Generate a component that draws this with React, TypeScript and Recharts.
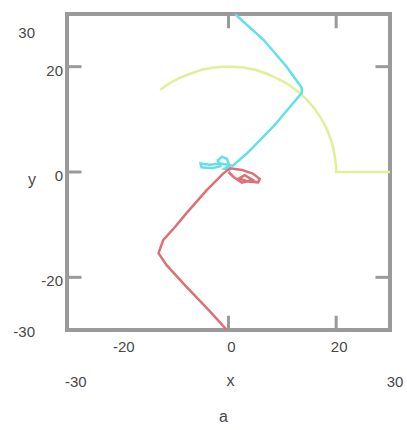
import { ScatterChart, Scatter, XAxis, YAxis, ReferenceArea, ReferenceLine, Label } from "recharts"

type Pt = { x: number; y: number }

const xTicks = [-30, -20, 0, 20, 30]
const yTicks = [-30, -20, 0, 20, 30]
const xTickMarks = [0, 20]
const leftTickMarks = [20, 0, -20]
const rightTickMarks = [20, -20]

// arc of radius ~20 round the origin, then a flat run out to the edge
const arcPath: Pt[] = [
  { x: -12.7, y: 15.6 }, { x: -11, y: 16.8 }, { x: -9, y: 17.9 }, { x: -7, y: 18.7 },
  { x: -5, y: 19.4 }, { x: -3, y: 19.8 }, { x: -1, y: 20 }, { x: 1, y: 20 },
  { x: 3, y: 19.8 }, { x: 5, y: 19.4 }, { x: 7, y: 18.7 }, { x: 9, y: 17.8 },
  { x: 11, y: 16.7 }, { x: 13, y: 15.2 }, { x: 14.5, y: 13.8 }, { x: 16, y: 12 },
  { x: 17.2, y: 10.2 }, { x: 18.2, y: 8.3 }, { x: 19, y: 6.2 }, { x: 19.5, y: 4.4 },
  { x: 19.8, y: 2.6 }, { x: 20, y: 0.8 }, { x: 20, y: 0 }, { x: 30, y: 0 },
]

const upperPath: Pt[] = [
  { x: 1.2, y: 30 }, { x: 6.5, y: 25.1 }, { x: 10.8, y: 20 }, { x: 13.6, y: 16 },
  { x: 13.6, y: 15 }, { x: 8.3, y: 8.6 }, { x: 3.4, y: 3.5 }, { x: 0.8, y: 1.2 },
  { x: -1.5, y: 1.6 }, { x: -3.5, y: 1.4 }, { x: -5.2, y: 1.6 }, { x: -5, y: 0.9 },
  { x: -3, y: 0.7 }, { x: -1.5, y: 1.1 }, { x: -2, y: 2.2 }, { x: -1.2, y: 2.9 },
  { x: -0.3, y: 2.5 }, { x: 0.2, y: 1.2 }, { x: -0.8, y: 0.6 }, { x: 0.4, y: 0.3 },
]

const lowerPath: Pt[] = [
  { x: -0.3, y: -30 }, { x: -3.4, y: -26.5 }, { x: -7.8, y: -21.8 }, { x: -11.5, y: -17.7 },
  { x: -13, y: -15.4 }, { x: -12.1, y: -12.9 }, { x: -9.9, y: -10.4 }, { x: -7.8, y: -7.8 },
  { x: -4, y: -3.4 }, { x: -1, y: -0.3 }, { x: 0.3, y: 0.7 }, { x: 2.5, y: 0.4 },
  { x: 4.5, y: -0.3 }, { x: 5.8, y: -1.3 }, { x: 5.5, y: -2 }, { x: 3.5, y: -1.8 },
  { x: 2, y: -1.2 }, { x: 3, y: -0.6 }, { x: 4.5, y: -1.5 }, { x: 2.5, y: -2 },
  { x: 1, y: -1 }, { x: 0, y: 0 },
]

const FONT = "'Liberation Sans', Arial, sans-serif"
const TEXT = "#484848"
const FRAME = "#9a9a9a"
const MARK_X = 2.7 // tick mark length, in data units
const MARK_Y = 2.7

const NoDot = () => <g />

function XTick({ x, y, payload }: any) {
  const v = payload.value
  const common = { fontFamily: FONT, fontSize: 15, fill: TEXT }
  if (v === -30) return <text x={x - 2} y={y + 57} textAnchor="start" {...common}>-30</text>
  if (v === 30) return <text x={x + 5} y={y + 57} textAnchor="middle" {...common}>30</text>
  return <text x={x + 3} y={y + 22} textAnchor="middle" {...common}>{v}</text>
}

function YTick({ x, y, payload }: any) {
  const v = payload.value
  const common = { fontFamily: FONT, fontSize: 15, fill: TEXT, textAnchor: "end" as const }
  if (v === 30) return <text x={x - 32} y={y + 24} {...common}>30</text>
  if (v === -30) return <text x={x - 32} y={y + 7} {...common}>-30</text>
  return <text x={x - 4} y={y + 9} {...common}>{v}</text>
}

function XTitle({ viewBox }: any) {
  const cx = viewBox.x + viewBox.width / 2
  return (
    <g fontFamily={FONT} fontSize={16} fill={TEXT} textAnchor="middle">
      <text x={cx + 2} y={viewBox.y + 56}>x</text>
      <text x={cx - 5} y={viewBox.y + 92}>a</text>
    </g>
  )
}

function YTitle() {
  return <text x={32} y={185} fontFamily={FONT} fontSize={16} fill={TEXT} textAnchor="middle">y</text>
}

export default function App() {
  return (
    <div style={{ position: "absolute", left: 0, top: 0, width: 407, height: 430, background: "#fff" }}>
      <ScatterChart width={407} height={430} margin={{ top: 14, right: 17, bottom: 0, left: 0 }}>
        <XAxis
          type="number" dataKey="x" domain={[-30, 30]} ticks={xTicks} height={100}
          axisLine={false} tickLine={false} tickSize={0} tickMargin={0} tick={<XTick />}
          allowDataOverflow
        >
          <Label content={<XTitle />} />
        </XAxis>
        <YAxis
          type="number" dataKey="y" domain={[-30, 30]} ticks={yTicks} width={67}
          axisLine={false} tickLine={false} tickSize={0} tickMargin={0} tick={<YTick />}
          allowDataOverflow
        >
          <Label content={<YTitle />} />
        </YAxis>

        <Scatter data={arcPath} line={{ stroke: "#e3ee98", strokeWidth: 2.5 }} lineType="joint"
          stroke="#e3ee98" shape={<NoDot />} isAnimationActive={false} legendType="none" />
        <Scatter data={upperPath} line={{ stroke: "#62e0ea", strokeWidth: 2.5 }} lineType="joint"
          stroke="#62e0ea" shape={<NoDot />} isAnimationActive={false} legendType="none" />
        <Scatter data={lowerPath} line={{ stroke: "#de6f74", strokeWidth: 2.5 }} lineType="joint"
          stroke="#de6f74" shape={<NoDot />} isAnimationActive={false} legendType="none" />

        {xTickMarks.map(v => (
          <ReferenceLine key={`t${v}`} segment={[{ x: v, y: 30 }, { x: v, y: 30 - MARK_Y }]}
            stroke={FRAME} strokeWidth={3} />
        ))}
        {xTickMarks.map(v => (
          <ReferenceLine key={`b${v}`} segment={[{ x: v, y: -30 }, { x: v, y: -30 + MARK_Y }]}
            stroke={FRAME} strokeWidth={3} />
        ))}
        {leftTickMarks.map(v => (
          <ReferenceLine key={`l${v}`} segment={[{ x: -30, y: v }, { x: -30 + MARK_X, y: v }]}
            stroke={FRAME} strokeWidth={3} />
        ))}
        {rightTickMarks.map(v => (
          <ReferenceLine key={`r${v}`} segment={[{ x: 30, y: v }, { x: 30 - MARK_X, y: v }]}
            stroke={FRAME} strokeWidth={3} />
        ))}
        <ReferenceArea x1={-30} x2={30} y1={-30} y2={30} fill="none" fillOpacity={0}
          stroke={FRAME} strokeWidth={4} strokeOpacity={1} ifOverflow="visible" />
      </ScatterChart>
    </div>
  )
}
